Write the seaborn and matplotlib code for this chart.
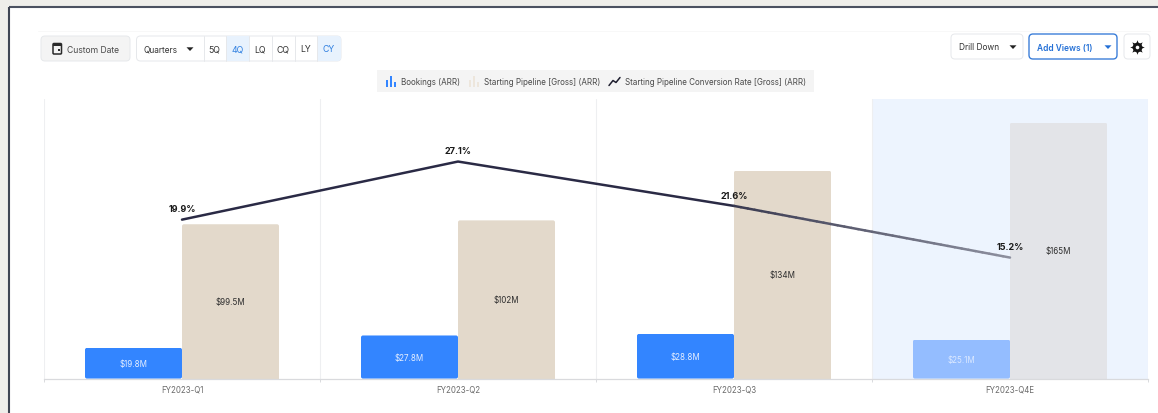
import numpy as np
import pandas as pd
import matplotlib
matplotlib.use("Agg")
import matplotlib.pyplot as plt
from matplotlib.collections import LineCollection
from matplotlib.colors import to_rgb
from matplotlib.patches import FancyBboxPatch, Rectangle
from matplotlib.transforms import IdentityTransform
import seaborn as sns

# Quarterly figures
quarters = ["FY2023-Q1", "FY2023-Q2", "FY2023-Q3", "FY2023-Q4E"]
bookings = [19.8, 27.8, 28.8, 25.1]
pipeline = [99.5, 102, 134, 165]
conversion = [19.9, 27.1, 21.6, 15.2]
bookings_labels = ["$19.8M", "$27.8M", "$28.8M", "$25.1M"]
pipeline_labels = ["$99.5M", "$102M", "$134M", "$165M"]
conversion_labels = ["19.9%", "27.1%", "21.6%", "15.2%"]
series_names = ["Bookings (ARR)", "Starting Pipeline [Gross] (ARR)"]
line_name = "Starting Pipeline Conversion Rate [Gross] (ARR)"

W, H = 1158, 414
BLUE, TAN = "#3385FF", "#E3D9CB"
BLUE_EST, GREY_EST = "#94BDFF", "#E3E4E8"
INK = "#2A2A45"
TEXT = "#4A4A4A"

sns.set_theme(style="white")
plt.rcParams["font.family"] = ["Inter", "DejaVu Sans"]

fig = plt.figure(figsize=(W / 100, H / 100), dpi=100, facecolor="#EFEEEA")

# Page chrome, addressed in pixels from the top-left corner
ui = fig.add_axes([0, 0, 1, 1], zorder=0)
ui.set_xlim(0, W)
ui.set_ylim(H, 0)
ui.axis("off")
ui.add_patch(Rectangle((9, 8), W, H, fc="white", ec="none"))
ui.plot([9, W], [8, 8], color="#4B5160", lw=1.5, solid_capstyle="butt")
ui.plot([9, 9], [8, H], color="#3F4553", lw=1.5, solid_capstyle="butt")
ui.plot([38, W - 8], [32, 32], color="#F8F8F8", lw=0.7)


def box(x0, y0, x1, y1, fc="white", ec="#E6E8EB", lw=0.7, r=4):
    ui.add_patch(FancyBboxPatch((x0 + r, y0 + r), x1 - x0 - 2 * r, y1 - y0 - 2 * r,
                                boxstyle=f"round,pad={r},rounding_size={r}",
                                fc=fc, ec=ec, lw=lw))


def label(x, y, s, color=TEXT, size=6.2, ha="left", weight="normal"):
    ui.text(x, y, s, color=color, fontsize=size, ha=ha, va="center", fontweight=weight)


def caret(x, y, color="#222222"):
    ui.fill([x - 3.5, x + 3.5, x], [y - 1.7, y - 1.7, y + 2], color=color, lw=0)


# Date controls
box(41, 37, 130, 62, fc="#F4F4F4")
box(53, 44.5, 61.5, 55, fc="none", ec="#2B2B2B", lw=1.1, r=1)
ui.add_patch(Rectangle((53, 44.5), 8.5, 2.6, fc="#2B2B2B", ec="none"))
ui.add_patch(Rectangle((57.7, 50.2), 2.2, 2.2, fc="#2B2B2B", ec="none"))
label(67, 50.5, "Custom Date")

box(136.5, 37, 341, 62)
ui.add_patch(Rectangle((226, 37.4), 23, 24.2, fc="#E8F2FD", ec="none"))
ui.add_patch(FancyBboxPatch((320, 40), 18, 19, boxstyle="round,pad=3,rounding_size=3",
                            fc="#E8F2FD", ec="none"))
ui.add_patch(Rectangle((317, 37.4), 8, 24.2, fc="#E8F2FD", ec="none"))
for x in [203.5, 226, 249, 271.5, 295, 317]:
    ui.plot([x, x], [37, 62], color="#E6E8EB", lw=0.7)
label(144, 50, "Quarters", color="#333333", size=6.0)
caret(190, 50)
range_labels = ["5Q", "4Q", "LQ", "CQ", "LY", "CY"]
range_centres = [214.7, 237.5, 260.2, 283.2, 306, 329]
for name, cx in zip(range_labels, range_centres):
    active = name in ("4Q", "CY")
    label(cx, 50, name, color="#2F7FE0" if active else "#333333", ha="center", size=6.3)

# Right-hand controls
box(951, 35, 1023, 60)
label(959, 48, "Drill Down", color="#333333", size=6.0)
caret(1013, 48)
box(1029, 35, 1117, 60, ec="#3C7FD9", lw=1)
label(1037, 48, "Add Views (1)", color="#2470D6", size=6.0, weight="semibold")
caret(1108, 48, color="#2470D6")
box(1124, 35, 1150, 60)
# Settings cog: toothed disc with a punched centre
ui.plot(1137, 48, marker=(8, 1, 0), ms=10.5, color="#151515", mew=0)
ui.plot(1137, 48, marker="o", ms=7, color="#151515", mew=0)
ui.plot(1137, 48, marker="o", ms=2.6, color="white", mew=0)

# Legend strip
ui.add_patch(Rectangle((377, 71), 437, 22, fc="#F4F4F4", ec="none"))
for x0, top, colour in [(386, 81, BLUE), (390, 77, BLUE), (394, 83, BLUE),
                        (469, 81, "#EDE6DC"), (473, 77, "#EDE6DC"), (477, 83, "#EDE6DC")]:
    ui.add_patch(Rectangle((x0, top), 2.2, 87.5 - top, fc=colour, ec="none"))
ui.plot([609, 613, 616, 620], [86.5, 81.5, 83.5, 78.5], color="#1E1E2E", lw=1.1)
label(401, 82.5, series_names[0], size=5.8)
label(484, 82.5, series_names[1], size=5.8)
label(625, 82.5, line_name, size=5.8)

# Chart area: four equal bands sharing one baseline
ax = fig.add_axes([44 / W, 1 - 379.6 / H, 1104 / W, 280 / H], zorder=1)
ax.patch.set_alpha(0)

frame = pd.DataFrame({
    "quarter": quarters * 2,
    "value": bookings + pipeline,
    "series": [series_names[0]] * 4 + [series_names[1]] * 4,
})
ax.axvspan(2.5, 3.5, color="#EDF4FE", lw=0, zorder=0)
sns.barplot(data=frame, x="quarter", y="value", hue="series", order=quarters,
            hue_order=series_names, palette=[BLUE, TAN], width=0.703, gap=0,
            saturation=1, legend=False, ax=ax, zorder=2, linewidth=0)
ax.set_xlim(-0.5, 3.5)
ax.set_ylim(0, 180.5)
ax.set(xlabel="", ylabel="", yticks=[])

for boundary in np.arange(-0.5, 4):
    ax.axvline(boundary, color="#EEEFF1", lw=0.8, zorder=1)
sns.despine(ax=ax, left=True, right=True, top=True)
ax.spines["bottom"].set_color("#D9DADD")
ax.spines["bottom"].set_linewidth(0.9)
ax.set_xticks(np.arange(-0.5, 4), minor=True)
ax.tick_params(axis="x", which="minor", bottom=True, length=2.4, width=0.7, color="#D9DADD")
ax.tick_params(axis="x", which="major", bottom=False, length=0, pad=4.2, labelsize=5.7,
               labelcolor="#6B6B6B")

blue_bars, tan_bars = ax.containers[0], ax.containers[1]
blue_bars[3].set_facecolor(BLUE_EST)
tan_bars[3].set_facecolor(GREY_EST)

# Rounded corners come from clipping each bar to a rounded outline
fig.canvas.draw()
for bars, overshoot in ((blue_bars, 0), (tan_bars, 5)):
    for bar in bars:
        ext = bar.get_window_extent()
        clip = FancyBboxPatch((ext.x0 + 2, ext.y0 + 2 - overshoot), ext.width - 4,
                              ext.height - 4 + overshoot,
                              boxstyle="round,pad=2,rounding_size=2",
                              transform=IdentityTransform())
        bar.set_clip_path(clip)

ax.bar_label(blue_bars, labels=bookings_labels[:3] + [""], label_type="center",
             color="#E4EEFF", fontsize=5.8)
ax.bar_label(tan_bars, labels=pipeline_labels, label_type="center", color="#2E2E2E", fontsize=5.8)
x3, y3 = blue_bars[3].get_x() + blue_bars[3].get_width() / 2, bookings[3] / 2
ax.text(x3, y3, bookings_labels[3], color="#DCE9FF", fontsize=5.8, ha="center", va="center")

# Conversion rate on its own scale; the estimated leg fades out
rate = ax.twinx()
rate.set_zorder(2)
rate.patch.set_alpha(0)
positions = np.arange(len(quarters))
sns.lineplot(x=positions[:3], y=conversion[:3], color=INK, lw=1.8, errorbar=None, ax=rate,
             solid_capstyle="round")
steps = np.linspace(0, 1, 41)
seg_x = positions[2] + steps * (positions[3] - positions[2])
seg_y = conversion[2] + steps * (conversion[3] - conversion[2])
points = np.column_stack([seg_x, seg_y])
pieces = np.stack([points[:-1], points[1:]], axis=1)
start, end = np.array(to_rgb("#3A3A50")), np.array(to_rgb("#8E91A0"))
shades = [start + t * (end - start) for t in steps[:-1]]
rate.add_collection(LineCollection(pieces, colors=shades, linewidths=1.8, capstyle="round"))
rate.set_xlim(-0.5, 3.5)
rate.set_ylim(0.2, 34.9)
rate.axis("off")
for xpos, value, text in zip(positions, conversion, conversion_labels):
    rate.annotate(text, (xpos, value), xytext=(0, 4.5), textcoords="offset points",
                  ha="center", va="bottom", fontsize=6.5, fontweight="bold", color="#1A1A1A")

fig.savefig("out.png", dpi=100, facecolor=fig.get_facecolor())
